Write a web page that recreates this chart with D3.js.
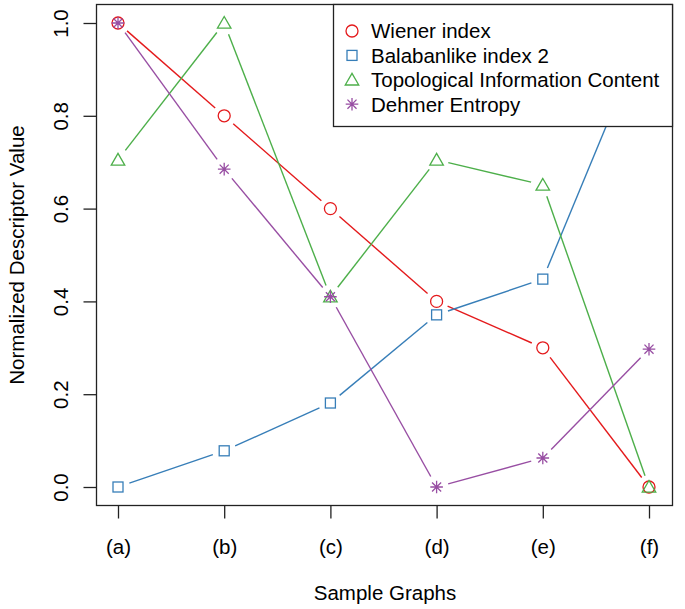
<!DOCTYPE html>
<html>
<head>
<meta charset="utf-8">
<script src="https://cdn.jsdelivr.net/npm/d3@7"></script>
<style>
  html, body { margin: 0; padding: 0; background: #fff; }
  text { font-family: "Liberation Sans", Arial, sans-serif; fill: #000; }
</style>
</head>
<body>
<svg id="chart" width="685" height="609"></svg>
<script>
// data
const categories = ["(a)", "(b)", "(c)", "(d)", "(e)", "(f)"];
const wiener   = [1.0, 0.8, 0.6, 0.4, 0.3, 0.0];
const balaban  = [0.0, 0.078, 0.181, 0.371, 0.448, 1.0];
const topoInfo = [0.705, 1.0, 0.41, 0.705, 0.651, 0.0];
const dehmer   = [1.0, 0.685, 0.41, 0.0, 0.0625, 0.297];
const yTicks   = [0, 0.2, 0.4, 0.6, 0.8, 1.0];

const series = [
  { name: "Wiener index",                    values: wiener,   color: "#E41A1C", shape: "circle" },
  { name: "Balabanlike index 2",             values: balaban,  color: "#377EB8", shape: "square" },
  { name: "Topological Information Content", values: topoInfo, color: "#4DAF4A", shape: "triangle" },
  { name: "Dehmer Entropy",                  values: dehmer,   color: "#984EA3", shape: "star" }
];

const FS = "20.5px";
const svg = d3.select("#chart");
const box = { left: 96.5, right: 672.5, top: 4.5, bottom: 505.5 };

const x = d3.scalePoint().domain(categories).range([118, 649]);
const y = d3.scaleLinear().domain([0, 1]).range([487, 23]);

/* symbols centred at 0,0 */
function drawSymbol(g, shape, color) {
  const sw = 1.3;
  if (shape === "circle") {
    g.append("circle").attr("r", 6).attr("fill", "none").attr("stroke", color).attr("stroke-width", sw);
  } else if (shape === "square") {
    g.append("rect").attr("x", -5).attr("y", -5).attr("width", 10).attr("height", 10)
      .attr("fill", "none").attr("stroke", color).attr("stroke-width", sw);
  } else if (shape === "triangle") {
    const r = 7.8;
    const pts = [[0, -r], [-r * 0.866, r * 0.5], [r * 0.866, r * 0.5]];
    g.append("path").attr("d", `M${pts.map(p => p.join(",")).join("L")}Z`)
      .attr("transform", "translate(0,1.3)")
      .attr("fill", "none").attr("stroke", color).attr("stroke-width", sw);
  } else {
    const a = 6.3, d = a * 0.72;
    g.append("path").attr("d", `M${-a},0L${a},0M0,${-a}L0,${a}M${-d},${-d}L${d},${d}M${-d},${d}L${d},${-d}`)
      .attr("fill", "none").attr("stroke", color).attr("stroke-width", sw);
  }
}

// lines, R type="b": segments stop short of the points
const gap = 12;
series.forEach(s => {
  const pts = s.values.map((v, i) => [x(categories[i]), y(v)]);
  const g = svg.append("g");
  for (let i = 0; i < pts.length - 1; i++) {
    const [x1, y1] = pts[i], [x2, y2] = pts[i + 1];
    const len = Math.hypot(x2 - x1, y2 - y1);
    if (len <= 2 * gap) continue;
    const ux = (x2 - x1) / len, uy = (y2 - y1) / len;
    g.append("line")
      .attr("x1", x1 + ux * gap).attr("y1", y1 + uy * gap)
      .attr("x2", x2 - ux * gap).attr("y2", y2 - uy * gap)
      .attr("stroke", s.color).attr("stroke-width", 1.4);
  }
  pts.forEach(p => drawSymbol(g.append("g").attr("transform", `translate(${p[0]},${p[1]})`), s.shape, s.color));
});

// frame
svg.append("rect")
  .attr("x", box.left).attr("y", box.top)
  .attr("width", box.right - box.left).attr("height", box.bottom - box.top)
  .attr("fill", "none").attr("stroke", "#222").attr("stroke-width", 1.3);

// axes
const xAxis = svg.append("g").attr("transform", `translate(0,${box.bottom})`)
  .call(d3.axisBottom(x).tickSize(13));
const yAxis = svg.append("g").attr("transform", `translate(${box.left},0)`)
  .call(d3.axisLeft(y).tickValues(yTicks).tickFormat(d3.format(".1f")).tickSize(13));
[xAxis, yAxis].forEach(a => {
  a.select(".domain").remove();
  a.selectAll("line").attr("stroke", "#222").attr("stroke-width", 1.3);
  a.selectAll("text").style("font-size", FS).style("font-family", "Liberation Sans, Arial, sans-serif");
});
xAxis.selectAll(".tick text")
  .attr("y", 43).attr("dy", null).attr("dominant-baseline", "middle");
yAxis.selectAll(".tick text")
  .attr("x", 0).attr("dy", null)
  .attr("text-anchor", "middle")
  .attr("transform", "translate(-34,0) rotate(-90)")
  .attr("dominant-baseline", "middle");

// axis titles
svg.append("text").attr("x", 385).attr("y", 595).attr("text-anchor", "middle")
  .attr("dominant-baseline", "middle")
  .style("font-size", FS).text("Sample Graphs");
svg.append("text").attr("transform", "translate(19,255) rotate(-90)")
  .attr("text-anchor", "middle").attr("dominant-baseline", "middle")
  .style("font-size", FS).text("Normalized Descriptor Value");

// legend (drawn on top, hides the last blue point like the original)
const lg = svg.append("g");
lg.append("rect").attr("x", 333.5).attr("y", 4.5).attr("width", 339).attr("height", 122)
  .attr("fill", "#fff").attr("stroke", "#222").attr("stroke-width", 1.3);
series.forEach((s, i) => {
  const row = lg.append("g").attr("transform", `translate(352,${31 + i * 24.4})`);
  drawSymbol(row, s.shape, s.color);
  row.append("text").attr("x", 19).attr("dy", "0.36em").style("font-size", FS).text(s.name);
});
</script>
</body>
</html>
